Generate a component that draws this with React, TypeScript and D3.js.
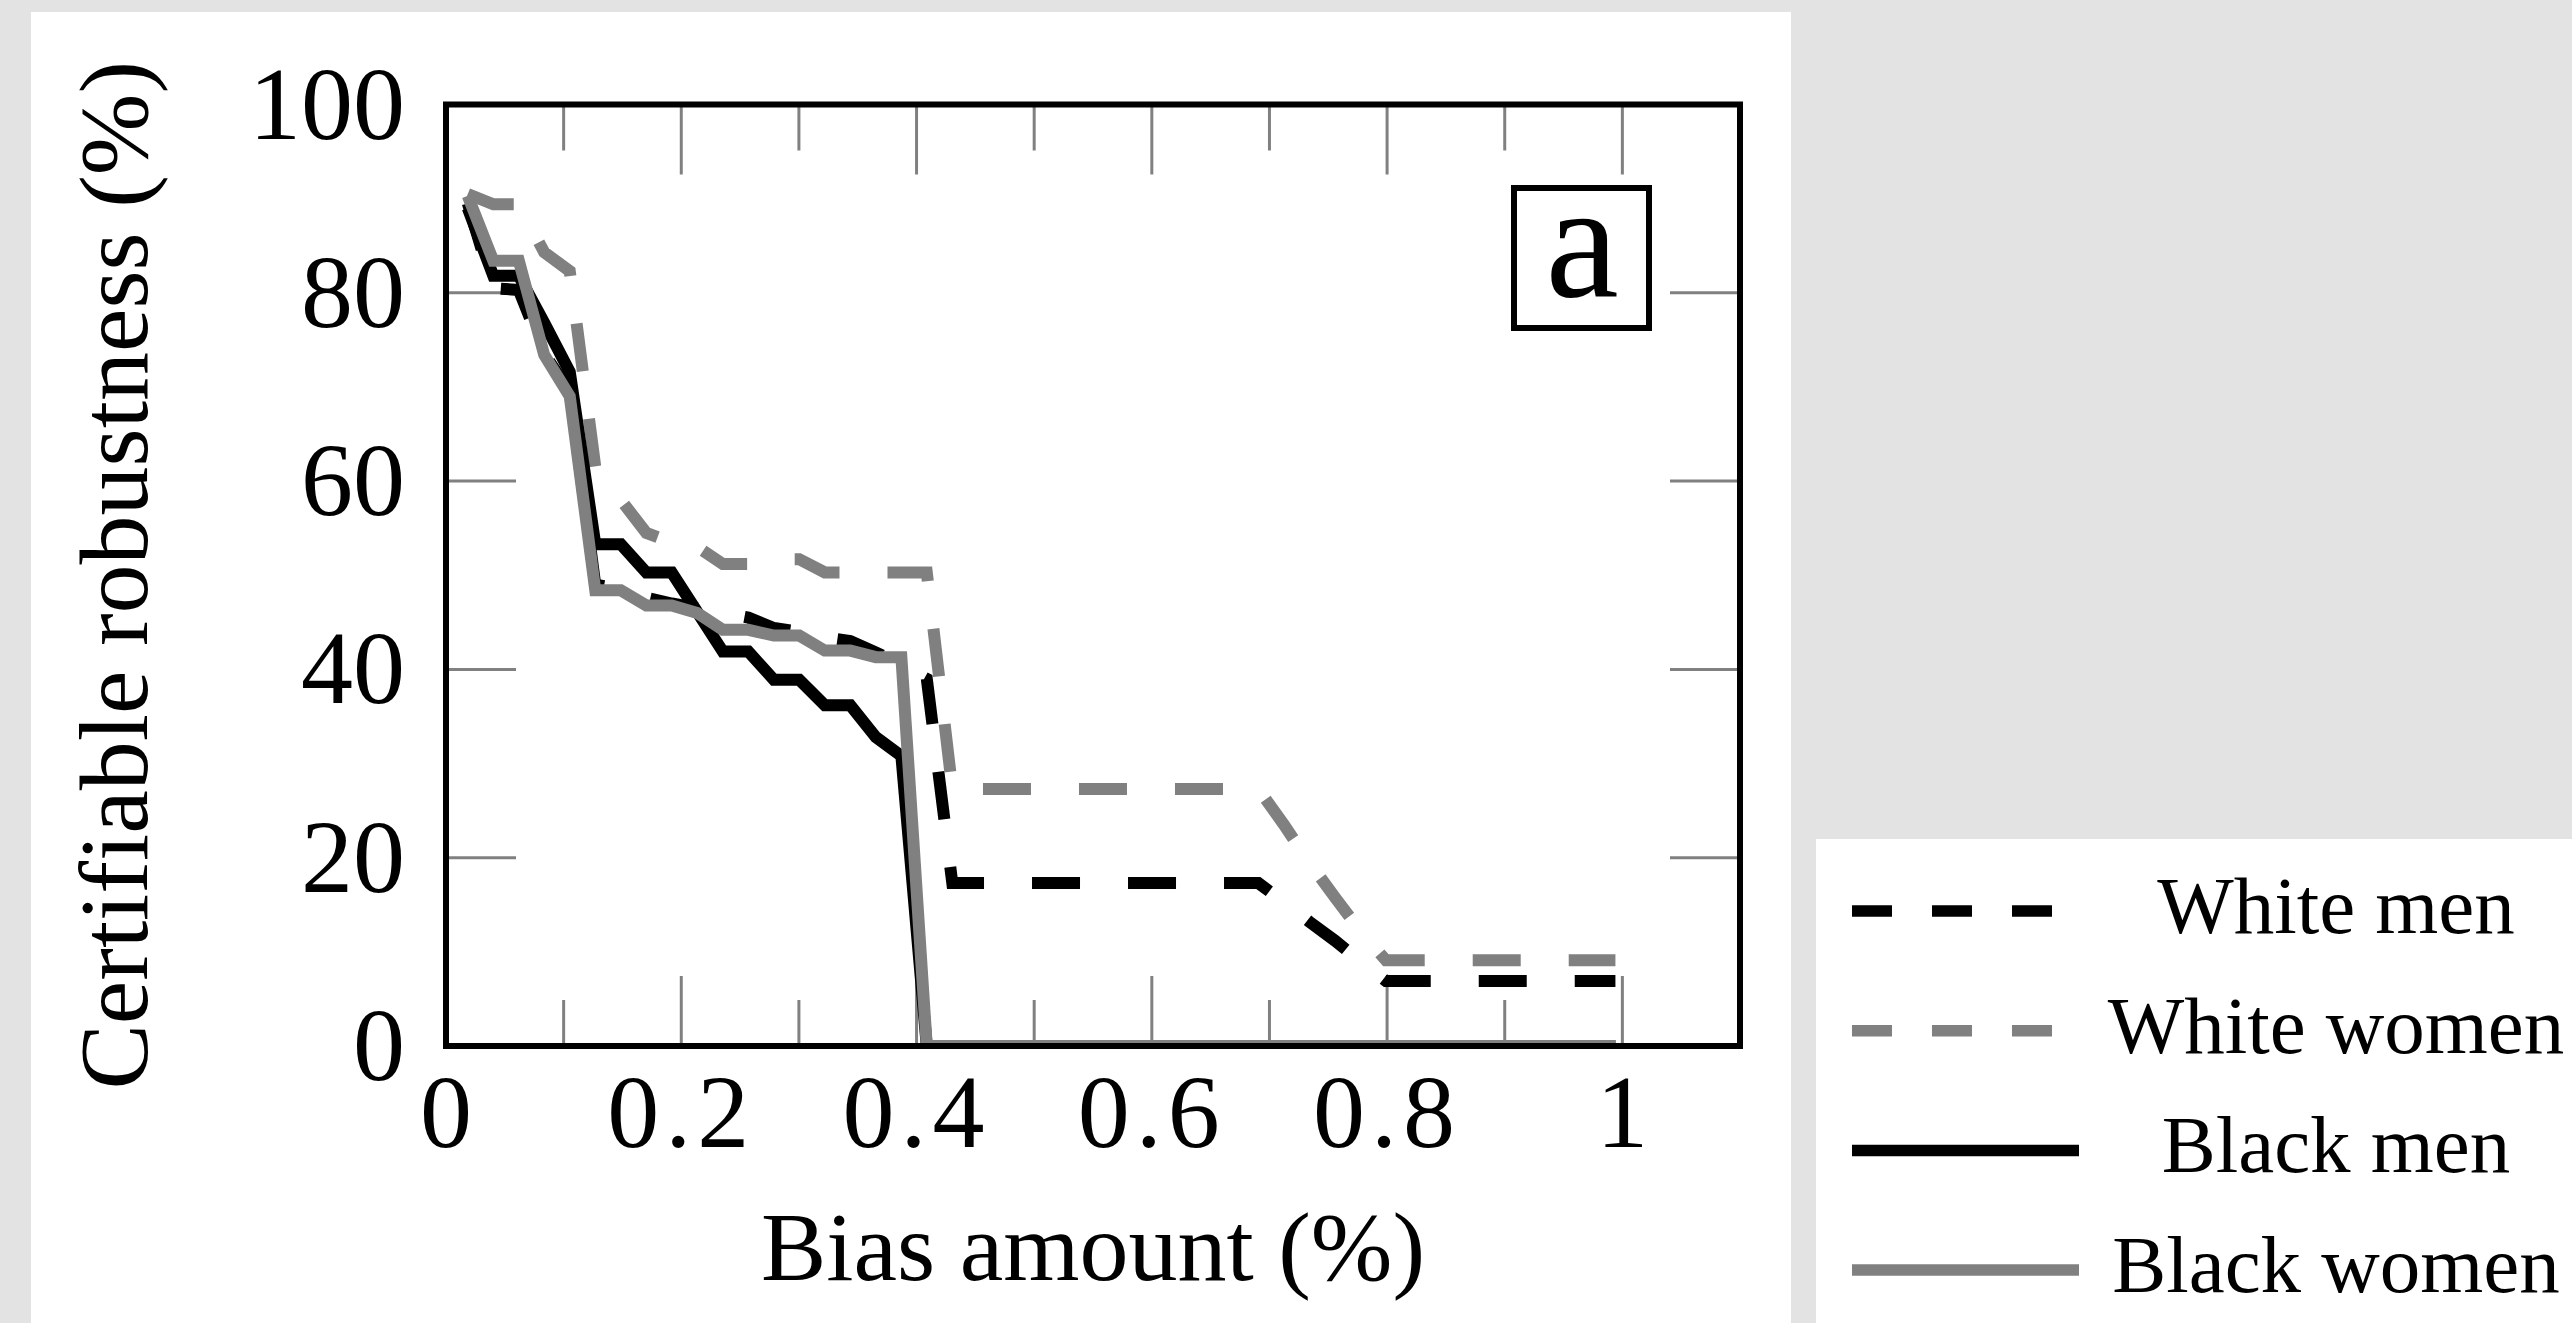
import React from "react";
import * as d3 from "d3";

// ---------- data ----------
const biasX = [
  0.0185, 0.0402, 0.0619, 0.0835, 0.1052, 0.1269, 0.1486, 0.1703, 0.1919, 0.2136,
  0.2353, 0.257, 0.2787, 0.3003, 0.322, 0.3437, 0.3654, 0.3871, 0.4087, 0.4304,
  0.4521, 0.4738, 0.4955, 0.5171, 0.5388, 0.5605, 0.5822, 0.6039, 0.6255, 0.6472,
  0.6689, 0.6906, 0.7123, 0.7339, 0.7556, 0.7773, 0.799, 0.8207, 0.8423, 0.864,
  0.8857, 0.9074, 0.9291, 0.9507, 0.9724, 0.9941,
];

const whiteMen = [
  89.5, 80.5, 80.3, 73.5, 69.5, 49.0, 48.5, 47.6, 47.0, 46.5,
  46.0, 45.5, 44.4, 44.0, 43.4, 43.0, 41.8, 40.5, 39.0, 17.3,
  17.3, 17.3, 17.3, 17.3, 17.3, 17.3, 17.3, 17.3, 17.3, 17.3,
  17.3, 17.3, 15.3, 13.2, 11.2, 9.0, 6.9, 6.9, 6.9, 6.9,
  6.9, 6.9, 6.9, 6.9, 6.9, 6.9,
];

const whiteWomen = [
  90.5, 89.4, 89.4, 84.3, 82.3, 61.5, 58.0, 54.5, 53.5, 53.0,
  51.2, 51.2, 51.7, 51.7, 50.3, 50.3, 50.3, 50.3, 50.3, 27.3,
  27.3, 27.3, 27.3, 27.3, 27.3, 27.3, 27.3, 27.3, 27.3, 27.3,
  27.3, 27.3, 23.5, 19.5, 15.8, 12.2, 9.1, 9.1, 9.1, 9.1,
  9.1, 9.1, 9.1, 9.1, 9.1, 9.1,
];

const blackMen = [
  89.0, 81.8, 81.8, 76.8, 71.6, 53.3, 53.3, 50.3, 50.3, 46.1,
  41.9, 41.9, 38.9, 38.9, 36.2, 36.2, 32.8, 30.8, 0, 0,
  0, 0, 0, 0, 0, 0, 0, 0, 0, 0,
  0, 0, 0, 0, 0, 0, 0, 0, 0, 0,
  0, 0, 0, 0, 0, 0,
];

const blackWomen = [
  90.3, 83.4, 83.4, 73.4, 69.0, 48.4, 48.4, 46.8, 46.8, 46.0,
  44.2, 44.2, 43.6, 43.6, 42.0, 42.0, 41.3, 41.3, 0, 0,
  0, 0, 0, 0, 0, 0, 0, 0, 0, 0,
  0, 0, 0, 0, 0, 0, 0, 0, 0, 0,
  0, 0, 0, 0, 0, 0,
];

const seriesNames = ["White men", "White women", "Black men", "Black women"];
const seriesValues = [whiteMen, whiteWomen, blackMen, blackWomen];
const seriesColors = ["#000000", "#808080", "#000000", "#808080"];
const seriesDashed = [true, true, false, false];

const xMajorTicks = [0, 0.2, 0.4, 0.6, 0.8, 1];
const xMinorTicks = [0.1, 0.3, 0.5, 0.7, 0.9];
const xTickLabels = ["0", "0.2", "0.4", "0.6", "0.8", "1"];
const yTicks = [0, 20, 40, 60, 80, 100];
const yTickLabels = ["0", "20", "40", "60", "80", "100"];

const xLabel = "Bias amount (%)";
const yLabel = "Certifiable robustness (%)";
const panelTag = "a";

// ---------- layout ----------
const W = 2572;
const H = 1323;
const L = 446, R = 1740, T = 104.5, B = 1046;
const FONT = "'Liberation Serif', 'Times New Roman', serif";

export default function App() {
  const x = d3.scaleLinear().domain([0, 1.1]).range([L, R]);
  const y = d3.scaleLinear().domain([0, 100]).range([B, T]);

  const line = d3
    .line<number>()
    .x((_, i) => x(biasX[i]))
    .y((d) => y(d));

  const majorLen = 70;
  const minorLen = 46;
  const tickColor = "#808080";

  const legendX0 = 1852;
  const legendRowY0 = 911;
  const legendStep = 119.7;
  const legendTextX = 2336;

  return (
    <svg
      width={W}
      height={H}
      viewBox={`0 0 ${W} ${H}`}
      style={{ position: "absolute", left: 0, top: 0, display: "block" }}
    >
      <rect x={0} y={0} width={W} height={H} fill="#e3e3e3" />
      <rect x={31} y={12} width={1760} height={H - 12} fill="#ffffff" />
      <rect x={1816} y={839} width={W - 1816} height={H - 839} fill="#ffffff" />

      <defs>
        <clipPath id="plotClip">
          <rect x={L} y={T} width={R - L} height={B - T} />
        </clipPath>
      </defs>

      {/* ticks */}
      <g stroke={tickColor} strokeWidth={3}>
        {xMajorTicks.map((t) => (
          <g key={"xm" + t}>
            <line x1={x(t)} x2={x(t)} y1={B} y2={B - majorLen} />
            <line x1={x(t)} x2={x(t)} y1={T} y2={T + majorLen} />
          </g>
        ))}
        {xMinorTicks.map((t) => (
          <g key={"xn" + t}>
            <line x1={x(t)} x2={x(t)} y1={B} y2={B - minorLen} />
            <line x1={x(t)} x2={x(t)} y1={T} y2={T + minorLen} />
          </g>
        ))}
        {yTicks.map((t) => (
          <g key={"y" + t}>
            <line x1={L} x2={L + majorLen} y1={y(t)} y2={y(t)} />
            <line x1={R} x2={R - majorLen} y1={y(t)} y2={y(t)} />
          </g>
        ))}
      </g>

      {/* series */}
      <g clipPath="url(#plotClip)" fill="none">
        {seriesValues.map((vals, i) => (
          <path
            key={seriesNames[i]}
            d={line(vals) || ""}
            stroke={seriesColors[i]}
            strokeWidth={12}
            strokeDasharray={seriesDashed[i] ? "48 48" : undefined}
            strokeLinejoin="miter"
          />
        ))}
      </g>

      {/* frame */}
      <rect x={L} y={T} width={R - L} height={B - T} fill="none" stroke="#000" strokeWidth={6} />

      {/* tick labels */}
      <g fontFamily={FONT} fontSize={104} fill="#000">
        {xMajorTicks.map((t, i) => (
          <text key={"xl" + t} x={x(t)} y={1147} textAnchor="middle" letterSpacing={i === 0 || i === 5 ? 0 : 6}>
            {xTickLabels[i]}
          </text>
        ))}
        {yTicks.map((t, i) => (
          <text key={"yl" + t} x={405} y={y(t) + 34} textAnchor="end">
            {yTickLabels[i]}
          </text>
        ))}
      </g>

      {/* axis labels */}
      <text x={(L + R) / 2} y={1280} textAnchor="middle" fontFamily={FONT} fontSize={98} fill="#000">
        {xLabel}
      </text>
      <text
        transform={`translate(147, ${(T + B) / 2}) rotate(-90)`}
        textAnchor="middle"
        fontFamily={FONT}
        fontSize={98}
        fill="#000"
      >
        {yLabel}
      </text>

      {/* panel tag */}
      <rect x={1514} y={188} width={135} height={140} fill="#fff" stroke="#000" strokeWidth={6} />
      <text x={1582} y={296} textAnchor="middle" fontFamily={FONT} fontSize={165} fill="#000">
        {panelTag}
      </text>

      {/* legend */}
      <g>
        {seriesNames.map((name, i) => {
          const yy = legendRowY0 + i * legendStep;
          return (
            <g key={"lg" + name}>
              <line
                x1={legendX0}
                x2={seriesDashed[i] ? legendX0 + 200 : legendX0 + 227}
                y1={yy}
                y2={yy}
                stroke={seriesColors[i]}
                strokeWidth={11.5}
                strokeDasharray={seriesDashed[i] ? "40 40" : undefined}
              />
              <text x={legendTextX} y={yy + 22} textAnchor="middle" fontFamily={FONT} fontSize={81} fill="#000">
                {name}
              </text>
            </g>
          );
        })}
      </g>
    </svg>
  );
}
